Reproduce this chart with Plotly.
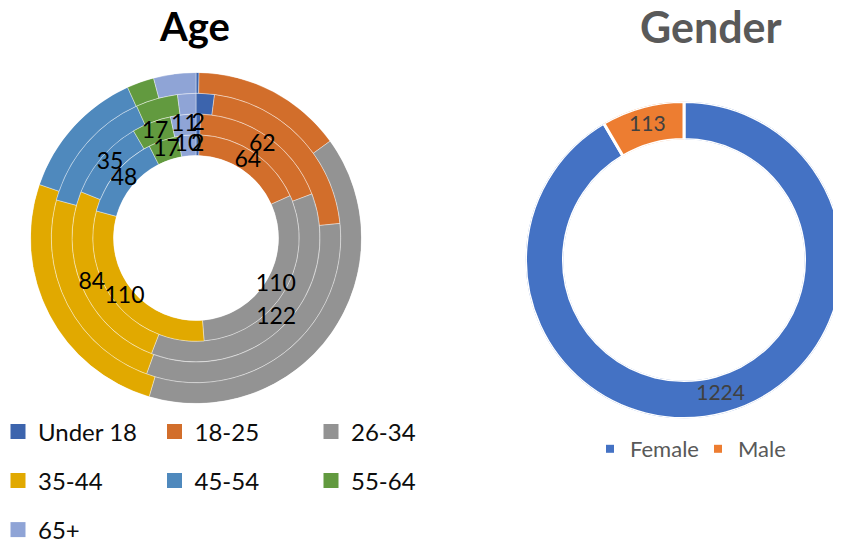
import plotly.graph_objects as go

# ---------------- data ----------------
age_groups = ["Under 18", "18-25", "26-34", "35-44", "45-54", "55-64", "65+"]
age_ring1 = [2, 64, 110, 110, 48, 17, 10]      # innermost ring (labelled)
age_ring2 = [2, 62, 122, 84, 35, 17, 11]       # second ring (labelled)
age_ring3 = [7, 73, 110, 81, 48, 16, 7]        # third ring (no labels)
age_ring4 = [1, 50, 134, 87, 44, 9, 14]        # outer ring (no labels)
age_rings = [age_ring1, age_ring2, age_ring3, age_ring4]
age_ring_labelled = [True, True, False, False]

genders = ["Female", "Male"]
gender_counts = [1224, 113]

# ---------------- styles ----------------
age_colors = ["#3C64AD", "#D26E2B", "#939393", "#E1A900",
              "#4F89BD", "#629A3F", "#8FA4D6"]
gender_colors = ["#4472C4", "#ED7D31"]
FONT = "Lato, 'Open Sans', sans-serif"
W, H = 841, 543
OFF = 8  # page body margin: figure (0,0) lands at screen (8,8)

# geometry of the two doughnuts (screen pixels)
age_cx, age_cy, age_R, age_hole_px = 196, 238, 165.5, 82.5
g_cx, g_cy, g_R, g_hole_px = 684, 260, 158.5, 120.5


def fx(px):
    return (px - OFF) / W


def fy(py):
    return 1 - (py - OFF) / H


def dom(cx, cy, R):
    c = lambda v: min(1.0, max(0.0, v))
    return dict(x=[c(fx(cx - R)), c(fx(cx + R))],
                y=[c(fy(cy + R)), c(fy(cy - R))])


def ring_angles(values):
    tot = float(sum(values))
    mids, widths, start = [], [], 0.0
    for v in values:
        widths.append(v / tot * 360.0)
        mids.append((start + v / 2.0) / tot * 360.0)
        start += v
    return mids, widths


fig = go.Figure()

# ---- Age: one barpolar trace per age group, one bar per ring ----
ring_geo = [ring_angles(r) for r in age_rings]
for k, grp in enumerate(age_groups):
    fig.add_trace(go.Barpolar(
        theta=[ring_geo[i][0][k] for i in range(len(age_rings))],
        width=[ring_geo[i][1][k] for i in range(len(age_rings))],
        base=list(range(len(age_rings))),
        r=[1] * len(age_rings),
        name=grp, subplot="polar",
        marker=dict(color=age_colors[k],
                    line=dict(color="rgba(255,255,255,0.55)", width=0.7)),
        showlegend=False, hoverinfo="name+text",
        text=[str(age_rings[i][k]) for i in range(len(age_rings))],
    ))

# ---- Age data labels (inner two rings) ----
for i, vals in enumerate(age_rings):
    if not age_ring_labelled[i]:
        continue
    mids, _ = ring_geo[i]
    fig.add_trace(go.Scatterpolar(
        r=[i + 0.5] * len(vals), theta=mids, mode="text",
        text=[str(v) for v in vals], subplot="polar",
        textfont=dict(family=FONT, size=23, color="#000000"),
        showlegend=False, hoverinfo="skip",
    ))

# ---- Gender doughnut ----
g_mids, g_widths = ring_angles(gender_counts)
for k, g in enumerate(genders):
    fig.add_trace(go.Barpolar(
        theta=[g_mids[k]], width=[g_widths[k]], base=[0], r=[1],
        name=g, subplot="polar2",
        marker=dict(color=gender_colors[k], line=dict(color="white", width=3)),
        showlegend=False,
    ))
fig.add_trace(go.Scatterpolar(
    r=[0.5] * len(gender_counts), theta=g_mids, mode="text",
    text=[str(v) for v in gender_counts], subplot="polar2",
    textfont=dict(family=FONT, size=21, color="#404040"),
    showlegend=False, hoverinfo="skip",
))

# ---- legend entries ----
age_legend_rows = ["legend", "legend", "legend", "legend2", "legend2", "legend2", "legend3"]
for k, grp in enumerate(age_groups):
    fig.add_trace(go.Scatterpolar(
        r=[None], theta=[None], mode="markers", name=grp, subplot="polar",
        marker=dict(symbol="square", size=15, color=age_colors[k]),
        legend=age_legend_rows[k], showlegend=True, hoverinfo="skip",
    ))
for k, g in enumerate(genders):
    fig.add_trace(go.Scatterpolar(
        r=[None], theta=[None], mode="markers", name=g, subplot="polar2",
        marker=dict(symbol="square", size=8, color=gender_colors[k]),
        legend="legend4", showlegend=True, hoverinfo="skip",
    ))

IND = -10
ang = dict(rotation=90, direction="clockwise", visible=False, showgrid=False,
           showline=False, showticklabels=False, ticks="")
age_leg = dict(orientation="h", xanchor="left", yanchor="middle",
               entrywidth=156.5 - 45 - IND, entrywidthmode="pixels", indentation=IND,
               font=dict(family=FONT, size=24, color="#0D0D0D"),
               bgcolor="rgba(0,0,0,0)", itemclick=False, itemdoubleclick=False)

fig.update_layout(
    width=W, height=H, margin=dict(l=0, r=0, t=0, b=0, autoexpand=False),
    paper_bgcolor="white", plot_bgcolor="white",
    font=dict(family=FONT),
    polar=dict(domain=dom(age_cx, age_cy, age_R),
               hole=age_hole_px / age_R, bgcolor="rgba(0,0,0,0)", barmode="overlay",
               radialaxis=dict(range=[0, 4], visible=False, showgrid=False),
               angularaxis=ang),
    polar2=dict(domain=dom(g_cx, g_cy, g_R),
                hole=g_hole_px / g_R, bgcolor="rgba(0,0,0,0)", barmode="overlay",
                radialaxis=dict(range=[0, 1], visible=False, showgrid=False),
                angularaxis=ang),
    legend=dict(age_leg, x=0.0, y=fy(432)),
    legend2=dict(age_leg, x=0.0, y=fy(481)),
    legend3=dict(age_leg, x=0.0, y=fy(530)),
    legend4=dict(orientation="h", xanchor="left", yanchor="middle",
                 x=fx(600), y=fy(449), entrywidth=108 - 45 - IND,
                 entrywidthmode="pixels", indentation=IND,
                 font=dict(family=FONT, size=22, color="#595959"),
                 bgcolor="rgba(0,0,0,0)", itemclick=False, itemdoubleclick=False),
    annotations=[
        dict(text="<b>Age</b>", x=fx(194), y=fy(26), xref="paper", yref="paper",
             xanchor="center", yanchor="middle", showarrow=False,
             font=dict(family=FONT, size=40, color="#000000")),
        dict(text="<b>Gender</b>", x=fx(711), y=fy(26), xref="paper", yref="paper",
             xanchor="center", yanchor="middle", showarrow=False,
             font=dict(family=FONT, size=43, color="#595959")),
    ],
)

fig.write_html("out.html")
